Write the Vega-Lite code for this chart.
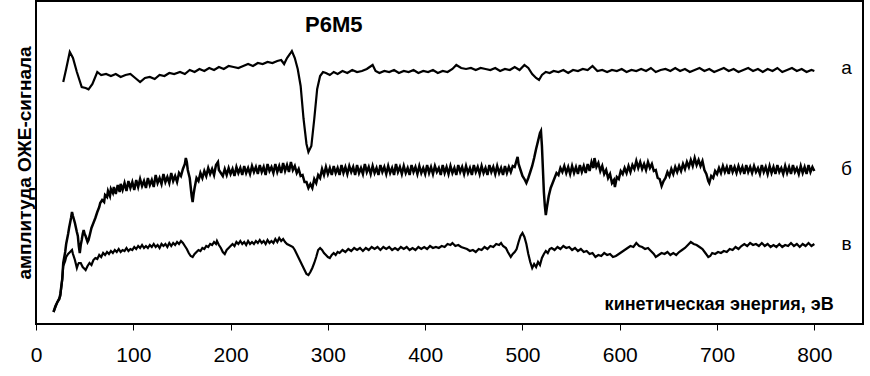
{
  "$schema": "https://vega.github.io/schema/vega-lite/v6.json",
  "autosize": "none",
  "width": 827,
  "height": 323,
  "padding": {"left": 36, "top": 1, "right": 7, "bottom": 52},
  "background": "white",
  "config": {
    "view": {"stroke": "black", "strokeWidth": 2},
    "font": "Liberation Sans"
  },
  "encoding": {
    "x": {"field": "x", "type": "quantitative", "scale": {"domain": [0, 850], "nice": false, "zero": false},
      "axis": {"values": [0,100,200,300,400,500,600,700,800], "grid": false, "title": null, "labelFontSize": 21, "labelFont": "Liberation Sans", "labelColor": "black", "tickColor": "black", "domainColor": "black", "tickSize": 6, "labelPadding": 14, "labelFlush": false}},
    "y": {"field": "y", "type": "quantitative", "scale": {"domain": [0, 323], "nice": false, "zero": false},
      "axis": {"labels": false, "ticks": false, "grid": false, "domain": false, "title": "амплитуда ОЖЕ-сигнала", "titleFontSize": 19, "titleFont": "Liberation Sans", "titleFontWeight": "bold", "titleColor": "black", "titlePadding": 2}}
  },
  "layer": [
    {
      "data": {"values": [
        {"x":28,"y":242},{"x":31,"y":255},{"x":34.7,"y":272},{"x":38,"y":266},{"x":42,"y":252},{"x":47,"y":237},{"x":51,"y":236},{"x":54,"y":234.7},{"x":58,"y":240},{"x":63,"y":252},{"x":67,"y":249},{"x":72,"y":250},{"x":77,"y":248},{"x":82,"y":250},{"x":87,"y":247},{"x":92,"y":249},{"x":97,"y":250},{"x":102,"y":246},{"x":107,"y":242},{"x":112,"y":246},{"x":117,"y":247},{"x":122,"y":245},{"x":127,"y":249},{"x":132,"y":248},{"x":137,"y":251},{"x":142,"y":250},{"x":148,"y":252},{"x":153,"y":250},{"x":158,"y":254},{"x":163,"y":252},{"x":168,"y":255},{"x":173,"y":253},{"x":178,"y":256},{"x":183,"y":254},{"x":188,"y":257},{"x":193,"y":255},{"x":198,"y":258},{"x":203,"y":257},{"x":208,"y":256},{"x":213,"y":258},{"x":218,"y":260},{"x":223,"y":258},{"x":228,"y":261},{"x":233,"y":260},{"x":238,"y":262},{"x":243,"y":261},{"x":248,"y":263},{"x":252,"y":264},{"x":255,"y":260},{"x":258,"y":266},{"x":261,"y":270},{"x":263,"y":273},{"x":266,"y":266},{"x":269,"y":255},{"x":272,"y":238},{"x":275,"y":205},{"x":278,"y":180},{"x":280,"y":172},{"x":283,"y":178},{"x":286,"y":205},{"x":289,"y":235},{"x":292,"y":248},{"x":295,"y":252},{"x":298,"y":251},{"x":302,"y":249},{"x":306,"y":252},{"x":310,"y":250},{"x":315,"y":253},{"x":320,"y":251},{"x":325,"y":254},{"x":330,"y":252},{"x":335,"y":253},{"x":340,"y":255},{"x":346,"y":259},{"x":349,"y":253},{"x":353,"y":251},{"x":358,"y":253},{"x":363,"y":252},{"x":368,"y":254},{"x":373,"y":251},{"x":378,"y":253},{"x":383,"y":252},{"x":388,"y":254},{"x":393,"y":251},{"x":398,"y":253},{"x":403,"y":252},{"x":408,"y":254},{"x":413,"y":251},{"x":418,"y":253},{"x":423,"y":252},{"x":428,"y":255},{"x":432,"y":259},{"x":437,"y":256},{"x":442,"y":255},{"x":447,"y":256},{"x":452,"y":254},{"x":457,"y":256},{"x":462,"y":255},{"x":467,"y":254},{"x":472,"y":256},{"x":477,"y":253},{"x":482,"y":255},{"x":487,"y":254},{"x":492,"y":257},{"x":497,"y":254},{"x":502,"y":259},{"x":506,"y":256},{"x":510,"y":250},{"x":514,"y":246},{"x":517,"y":244},{"x":520,"y":249},{"x":524,"y":252},{"x":528,"y":251},{"x":532,"y":253},{"x":537,"y":252},{"x":542,"y":254},{"x":547,"y":251},{"x":552,"y":254},{"x":557,"y":253},{"x":562,"y":255},{"x":567,"y":254},{"x":572,"y":258},{"x":577,"y":253},{"x":582,"y":254},{"x":587,"y":252},{"x":592,"y":254},{"x":597,"y":253},{"x":602,"y":255},{"x":607,"y":252},{"x":612,"y":254},{"x":617,"y":253},{"x":622,"y":255},{"x":627,"y":253},{"x":632,"y":256},{"x":637,"y":252},{"x":642,"y":254},{"x":647,"y":255},{"x":652,"y":253},{"x":657,"y":256},{"x":662,"y":253},{"x":667,"y":255},{"x":672,"y":252},{"x":677,"y":254},{"x":682,"y":256},{"x":687,"y":253},{"x":692,"y":255},{"x":697,"y":252},{"x":702,"y":254},{"x":707,"y":256},{"x":712,"y":253},{"x":717,"y":255},{"x":722,"y":252},{"x":727,"y":254},{"x":732,"y":256},{"x":737,"y":253},{"x":742,"y":255},{"x":747,"y":252},{"x":752,"y":255},{"x":757,"y":253},{"x":762,"y":256},{"x":767,"y":252},{"x":772,"y":254},{"x":777,"y":256},{"x":782,"y":253},{"x":787,"y":255},{"x":792,"y":252},{"x":797,"y":254},{"x":800,"y":253}
      ]},
      "mark": {"type": "line", "color": "black", "strokeWidth": 2.2, "interpolate": "linear"}
    },
    {
      "data": {"values": [
        {"x":18,"y":12},{"x":20,"y":18},{"x":22,"y":22},{"x":24,"y":25},{"x":25,"y":30},{"x":27,"y":45},{"x":28,"y":61},{"x":30,"y":72},{"x":31,"y":80},{"x":33,"y":90},{"x":34,"y":96},{"x":36,"y":106},{"x":37,"y":112},{"x":38,"y":108},{"x":40,"y":101},{"x":42,"y":92},{"x":43,"y":88},{"x":44,"y":78},{"x":45,"y":71},{"x":46,"y":79},{"x":47,"y":84},{"x":48,"y":90},{"x":49,"y":94},{"x":50,"y":90},{"x":51,"y":88},{"x":53,"y":82},{"x":54,"y":84},{"x":56,"y":92},{"x":57,"y":96},{"x":59,"y":101},{"x":61,"y":106},{"x":63,"y":112},{"x":65,"y":117},{"x":66,"y":121},{"x":68,"y":124},{"x":70,"y":122},{"x":71,"y":129},{"x":73,"y":127},{"x":74,"y":133},{"x":76,"y":128},{"x":77,"y":135},{"x":79,"y":131},{"x":80,"y":137},{"x":82,"y":130},{"x":84,"y":139},{"x":86,"y":132},{"x":87,"y":140},{"x":89,"y":134},{"x":91,"y":141},{"x":93,"y":133},{"x":95,"y":143},{"x":97,"y":136},{"x":99,"y":142},{"x":101,"y":134},{"x":103,"y":144},{"x":105,"y":137},{"x":107,"y":145},{"x":109,"y":138},{"x":111,"y":143},{"x":113,"y":136},{"x":115,"y":146},{"x":117,"y":139},{"x":119,"y":144},{"x":121,"y":137},{"x":123,"y":149},{"x":125,"y":141},{"x":127,"y":146},{"x":129,"y":140},{"x":131,"y":150},{"x":133,"y":142},{"x":135,"y":147},{"x":137,"y":141},{"x":139,"y":151},{"x":141,"y":143},{"x":143,"y":148},{"x":145,"y":142},{"x":147,"y":151},{"x":149,"y":148},{"x":151,"y":155},{"x":153,"y":160},{"x":154,"y":166},{"x":155,"y":162},{"x":156,"y":154},{"x":157,"y":150},{"x":158,"y":146},{"x":159,"y":137},{"x":160,"y":128},{"x":161,"y":122},{"x":162,"y":130},{"x":163,"y":136},{"x":164,"y":141},{"x":165,"y":146},{"x":167,"y":143},{"x":169,"y":151},{"x":171,"y":146},{"x":173,"y":153},{"x":175,"y":148},{"x":177,"y":156},{"x":179,"y":150},{"x":181,"y":155},{"x":183,"y":149},{"x":185,"y":159},{"x":187,"y":162},{"x":188,"y":154},{"x":190,"y":151},{"x":192,"y":148},{"x":194,"y":155},{"x":196,"y":149},{"x":198,"y":156},{"x":200,"y":150},{"x":202,"y":155},{"x":204,"y":148},{"x":206,"y":157},{"x":208,"y":151},{"x":210,"y":156},{"x":212,"y":149},{"x":214,"y":158},{"x":216,"y":151},{"x":218,"y":156},{"x":220,"y":150},{"x":222,"y":158},{"x":224,"y":152},{"x":226,"y":157},{"x":228,"y":150},{"x":230,"y":159},{"x":232,"y":152},{"x":234,"y":157},{"x":236,"y":149},{"x":238,"y":160},{"x":240,"y":153},{"x":242,"y":157},{"x":244,"y":151},{"x":246,"y":160},{"x":248,"y":152},{"x":250,"y":158},{"x":252,"y":151},{"x":254,"y":161},{"x":256,"y":153},{"x":258,"y":159},{"x":260,"y":152},{"x":262,"y":162},{"x":264,"y":154},{"x":266,"y":158},{"x":268,"y":151},{"x":270,"y":155},{"x":272,"y":148},{"x":274,"y":149},{"x":276,"y":142},{"x":278,"y":142},{"x":280,"y":136},{"x":282,"y":140},{"x":284,"y":136},{"x":286,"y":145},{"x":288,"y":141},{"x":290,"y":149},{"x":292,"y":146},{"x":294,"y":155},{"x":296,"y":149},{"x":298,"y":157},{"x":300,"y":150},{"x":302,"y":156},{"x":304,"y":149},{"x":306,"y":158},{"x":308,"y":151},{"x":310,"y":156},{"x":312,"y":149},{"x":314,"y":159},{"x":316,"y":151},{"x":318,"y":157},{"x":320,"y":150},{"x":322,"y":158},{"x":324,"y":152},{"x":326,"y":157},{"x":328,"y":149},{"x":330,"y":159},{"x":332,"y":151},{"x":334,"y":156},{"x":336,"y":150},{"x":338,"y":160},{"x":340,"y":152},{"x":342,"y":157},{"x":344,"y":150},{"x":346,"y":158},{"x":348,"y":151},{"x":350,"y":156},{"x":352,"y":149},{"x":354,"y":159},{"x":356,"y":152},{"x":358,"y":157},{"x":360,"y":150},{"x":362,"y":158},{"x":364,"y":151},{"x":366,"y":156},{"x":368,"y":149},{"x":370,"y":160},{"x":372,"y":152},{"x":374,"y":157},{"x":376,"y":150},{"x":378,"y":158},{"x":380,"y":151},{"x":382,"y":156},{"x":384,"y":149},{"x":386,"y":159},{"x":388,"y":152},{"x":390,"y":157},{"x":392,"y":150},{"x":394,"y":158},{"x":396,"y":151},{"x":398,"y":156},{"x":400,"y":150},{"x":402,"y":159},{"x":404,"y":151},{"x":406,"y":157},{"x":408,"y":150},{"x":410,"y":158},{"x":412,"y":152},{"x":414,"y":156},{"x":416,"y":149},{"x":418,"y":159},{"x":420,"y":151},{"x":422,"y":157},{"x":424,"y":150},{"x":426,"y":158},{"x":428,"y":151},{"x":430,"y":156},{"x":432,"y":149},{"x":434,"y":159},{"x":436,"y":152},{"x":438,"y":157},{"x":440,"y":150},{"x":442,"y":158},{"x":444,"y":151},{"x":446,"y":156},{"x":448,"y":149},{"x":450,"y":159},{"x":452,"y":152},{"x":454,"y":157},{"x":456,"y":150},{"x":458,"y":158},{"x":460,"y":151},{"x":462,"y":156},{"x":464,"y":149},{"x":466,"y":159},{"x":468,"y":152},{"x":470,"y":157},{"x":472,"y":150},{"x":474,"y":158},{"x":476,"y":151},{"x":478,"y":156},{"x":480,"y":149},{"x":482,"y":158},{"x":484,"y":151},{"x":486,"y":157},{"x":488,"y":152},{"x":490,"y":158},{"x":492,"y":157},{"x":494,"y":164},{"x":495,"y":167},{"x":496,"y":160},{"x":498,"y":154},{"x":500,"y":148},{"x":502,"y":145},{"x":504,"y":141},{"x":506,"y":146},{"x":508,"y":152},{"x":510,"y":158},{"x":512,"y":166},{"x":514,"y":175},{"x":516,"y":183},{"x":517,"y":187},{"x":518,"y":191},{"x":519,"y":193},{"x":520,"y":178},{"x":521,"y":155},{"x":522,"y":132},{"x":523,"y":118},{"x":524,"y":109},{"x":525,"y":116},{"x":527,"y":128},{"x":529,"y":136},{"x":531,"y":141},{"x":533,"y":146},{"x":535,"y":151},{"x":537,"y":149},{"x":539,"y":156},{"x":541,"y":152},{"x":543,"y":158},{"x":545,"y":151},{"x":547,"y":157},{"x":549,"y":150},{"x":551,"y":158},{"x":553,"y":151},{"x":555,"y":157},{"x":557,"y":150},{"x":559,"y":159},{"x":561,"y":152},{"x":563,"y":158},{"x":565,"y":151},{"x":567,"y":160},{"x":569,"y":153},{"x":571,"y":162},{"x":573,"y":156},{"x":574,"y":166},{"x":576,"y":157},{"x":578,"y":161},{"x":580,"y":153},{"x":582,"y":158},{"x":584,"y":150},{"x":586,"y":154},{"x":588,"y":146},{"x":590,"y":150},{"x":592,"y":141},{"x":594,"y":144},{"x":595,"y":137},{"x":597,"y":147},{"x":599,"y":145},{"x":601,"y":153},{"x":603,"y":150},{"x":605,"y":156},{"x":607,"y":151},{"x":609,"y":158},{"x":611,"y":152},{"x":613,"y":159},{"x":615,"y":155},{"x":617,"y":163},{"x":619,"y":156},{"x":621,"y":162},{"x":623,"y":155},{"x":625,"y":160},{"x":627,"y":154},{"x":629,"y":162},{"x":631,"y":156},{"x":633,"y":160},{"x":635,"y":153},{"x":637,"y":154},{"x":639,"y":146},{"x":641,"y":145},{"x":643,"y":138},{"x":645,"y":143},{"x":647,"y":146},{"x":649,"y":152},{"x":651,"y":148},{"x":653,"y":155},{"x":655,"y":150},{"x":657,"y":157},{"x":659,"y":152},{"x":661,"y":158},{"x":663,"y":153},{"x":665,"y":160},{"x":667,"y":155},{"x":669,"y":162},{"x":671,"y":157},{"x":673,"y":164},{"x":675,"y":158},{"x":677,"y":166},{"x":679,"y":159},{"x":681,"y":164},{"x":683,"y":158},{"x":685,"y":163},{"x":687,"y":154},{"x":689,"y":150},{"x":691,"y":143},{"x":692,"y":141},{"x":694,"y":148},{"x":696,"y":146},{"x":698,"y":153},{"x":700,"y":150},{"x":702,"y":156},{"x":704,"y":151},{"x":706,"y":158},{"x":708,"y":152},{"x":710,"y":157},{"x":712,"y":150},{"x":714,"y":159},{"x":716,"y":152},{"x":718,"y":157},{"x":720,"y":151},{"x":722,"y":158},{"x":724,"y":152},{"x":726,"y":157},{"x":728,"y":150},{"x":730,"y":159},{"x":732,"y":152},{"x":734,"y":157},{"x":736,"y":151},{"x":738,"y":158},{"x":740,"y":152},{"x":742,"y":156},{"x":744,"y":150},{"x":746,"y":159},{"x":748,"y":152},{"x":750,"y":157},{"x":752,"y":150},{"x":754,"y":158},{"x":756,"y":151},{"x":758,"y":157},{"x":760,"y":150},{"x":762,"y":159},{"x":764,"y":152},{"x":766,"y":156},{"x":768,"y":150},{"x":770,"y":158},{"x":772,"y":151},{"x":774,"y":157},{"x":776,"y":150},{"x":778,"y":159},{"x":780,"y":152},{"x":782,"y":156},{"x":784,"y":150},{"x":786,"y":158},{"x":788,"y":151},{"x":790,"y":157},{"x":792,"y":150},{"x":794,"y":159},{"x":796,"y":152},{"x":798,"y":157},{"x":800,"y":153}
      ]},
      "mark": {"type": "line", "color": "black", "strokeWidth": 2.5}
    },
    {
      "data": {"values": [
        {"x":18,"y":12},{"x":20,"y":17},{"x":22,"y":22},{"x":24,"y":26},{"x":25,"y":28},{"x":27,"y":45},{"x":28,"y":58},{"x":30,"y":63},{"x":31,"y":67},{"x":33,"y":70},{"x":35,"y":72},{"x":37,"y":74},{"x":38,"y":70},{"x":40,"y":64},{"x":42,"y":56},{"x":43,"y":59},{"x":44,"y":61},{"x":46,"y":61},{"x":48,"y":57},{"x":50,"y":55},{"x":51,"y":54},{"x":53,"y":58},{"x":55,"y":61},{"x":57,"y":59},{"x":59,"y":64},{"x":61,"y":66},{"x":63,"y":65},{"x":65,"y":69},{"x":67,"y":67},{"x":69,"y":71},{"x":71,"y":69},{"x":73,"y":72},{"x":75,"y":70},{"x":77,"y":73},{"x":79,"y":71},{"x":81,"y":74},{"x":83,"y":72},{"x":85,"y":75},{"x":87,"y":72},{"x":89,"y":74},{"x":91,"y":73},{"x":93,"y":76},{"x":95,"y":73},{"x":97,"y":75},{"x":99,"y":74},{"x":101,"y":77},{"x":103,"y":75},{"x":105,"y":78},{"x":107,"y":76},{"x":109,"y":79},{"x":111,"y":76},{"x":113,"y":78},{"x":115,"y":76},{"x":117,"y":79},{"x":119,"y":77},{"x":121,"y":80},{"x":123,"y":77},{"x":125,"y":79},{"x":127,"y":76},{"x":129,"y":80},{"x":131,"y":78},{"x":133,"y":80},{"x":135,"y":77},{"x":137,"y":81},{"x":139,"y":78},{"x":141,"y":81},{"x":143,"y":79},{"x":145,"y":82},{"x":147,"y":80},{"x":149,"y":83},{"x":151,"y":81},{"x":153,"y":78},{"x":155,"y":75},{"x":157,"y":71},{"x":159,"y":68},{"x":161,"y":67},{"x":163,"y":70},{"x":165,"y":72},{"x":167,"y":74},{"x":169,"y":73},{"x":171,"y":76},{"x":173,"y":75},{"x":175,"y":78},{"x":177,"y":77},{"x":179,"y":80},{"x":181,"y":79},{"x":183,"y":82},{"x":185,"y":80},{"x":186,"y":83},{"x":188,"y":79},{"x":190,"y":76},{"x":192,"y":72},{"x":194,"y":70},{"x":196,"y":74},{"x":198,"y":76},{"x":200,"y":78},{"x":202,"y":80},{"x":204,"y":78},{"x":206,"y":82},{"x":208,"y":80},{"x":210,"y":83},{"x":212,"y":80},{"x":214,"y":82},{"x":216,"y":79},{"x":218,"y":83},{"x":220,"y":80},{"x":222,"y":82},{"x":224,"y":80},{"x":226,"y":83},{"x":228,"y":81},{"x":230,"y":84},{"x":232,"y":81},{"x":234,"y":83},{"x":236,"y":80},{"x":238,"y":84},{"x":240,"y":81},{"x":242,"y":83},{"x":244,"y":81},{"x":246,"y":85},{"x":248,"y":82},{"x":250,"y":86},{"x":252,"y":83},{"x":254,"y":85},{"x":256,"y":82},{"x":258,"y":80},{"x":260,"y":79},{"x":262,"y":78},{"x":264,"y":77},{"x":266,"y":74},{"x":268,"y":70},{"x":270,"y":66},{"x":272,"y":62},{"x":274,"y":58},{"x":276,"y":54},{"x":278,"y":50},{"x":280,"y":49},{"x":282,"y":52},{"x":284,"y":56},{"x":286,"y":61},{"x":288,"y":67},{"x":290,"y":74},{"x":292,"y":76},{"x":294,"y":74},{"x":296,"y":71},{"x":298,"y":69},{"x":300,"y":67},{"x":302,"y":66},{"x":304,"y":69},{"x":306,"y":71},{"x":308,"y":69},{"x":310,"y":72},{"x":312,"y":71},{"x":315,"y":74},{"x":318,"y":72},{"x":321,"y":75},{"x":324,"y":73},{"x":327,"y":76},{"x":330,"y":74},{"x":333,"y":76},{"x":336,"y":73},{"x":339,"y":76},{"x":342,"y":74},{"x":345,"y":77},{"x":348,"y":75},{"x":351,"y":77},{"x":354,"y":74},{"x":357,"y":77},{"x":360,"y":75},{"x":363,"y":77},{"x":366,"y":74},{"x":369,"y":76},{"x":372,"y":74},{"x":375,"y":77},{"x":378,"y":75},{"x":381,"y":77},{"x":384,"y":74},{"x":387,"y":76},{"x":390,"y":74},{"x":393,"y":77},{"x":396,"y":75},{"x":399,"y":77},{"x":402,"y":75},{"x":405,"y":78},{"x":408,"y":76},{"x":411,"y":77},{"x":414,"y":76},{"x":417,"y":78},{"x":420,"y":77},{"x":423,"y":80},{"x":426,"y":79},{"x":428,"y":81},{"x":431,"y":78},{"x":434,"y":79},{"x":437,"y":77},{"x":440,"y":76},{"x":443,"y":75},{"x":446,"y":73},{"x":449,"y":74},{"x":452,"y":72},{"x":455,"y":75},{"x":458,"y":74},{"x":461,"y":77},{"x":464,"y":75},{"x":467,"y":78},{"x":470,"y":77},{"x":473,"y":80},{"x":476,"y":79},{"x":478,"y":81},{"x":480,"y":78},{"x":483,"y":76},{"x":485,"y":72},{"x":488,"y":67},{"x":490,"y":70},{"x":492,"y":72},{"x":494,"y":75},{"x":496,"y":82},{"x":498,"y":88},{"x":500,"y":91},{"x":502,"y":87},{"x":504,"y":80},{"x":506,"y":70},{"x":508,"y":62},{"x":510,"y":56},{"x":512,"y":60},{"x":514,"y":57},{"x":516,"y":62},{"x":518,"y":59},{"x":520,"y":66},{"x":522,"y":70},{"x":524,"y":73},{"x":526,"y":71},{"x":528,"y":75},{"x":530,"y":76},{"x":533,"y":74},{"x":536,"y":77},{"x":539,"y":75},{"x":542,"y":78},{"x":545,"y":76},{"x":548,"y":77},{"x":551,"y":74},{"x":554,"y":76},{"x":557,"y":73},{"x":560,"y":75},{"x":563,"y":72},{"x":566,"y":73},{"x":569,"y":70},{"x":572,"y":71},{"x":575,"y":67},{"x":578,"y":69},{"x":581,"y":68},{"x":584,"y":71},{"x":587,"y":69},{"x":590,"y":70},{"x":593,"y":67},{"x":596,"y":68},{"x":599,"y":70},{"x":602,"y":72},{"x":605,"y":74},{"x":608,"y":76},{"x":611,"y":78},{"x":614,"y":77},{"x":617,"y":81},{"x":620,"y":78},{"x":623,"y":77},{"x":626,"y":75},{"x":629,"y":76},{"x":632,"y":73},{"x":635,"y":70},{"x":637,"y":67},{"x":640,"y":69},{"x":643,"y":71},{"x":646,"y":70},{"x":649,"y":72},{"x":652,"y":69},{"x":655,"y":71},{"x":658,"y":69},{"x":661,"y":72},{"x":664,"y":74},{"x":667,"y":76},{"x":670,"y":79},{"x":673,"y":82},{"x":676,"y":80},{"x":679,"y":79},{"x":682,"y":77},{"x":685,"y":75},{"x":688,"y":71},{"x":691,"y":67},{"x":693,"y":68},{"x":695,"y":71},{"x":698,"y":70},{"x":701,"y":72},{"x":704,"y":71},{"x":707,"y":73},{"x":710,"y":72},{"x":713,"y":75},{"x":716,"y":74},{"x":719,"y":77},{"x":722,"y":75},{"x":725,"y":78},{"x":728,"y":80},{"x":731,"y":78},{"x":734,"y":81},{"x":737,"y":79},{"x":740,"y":80},{"x":743,"y":78},{"x":746,"y":81},{"x":749,"y":78},{"x":752,"y":80},{"x":755,"y":77},{"x":758,"y":79},{"x":761,"y":77},{"x":764,"y":80},{"x":767,"y":77},{"x":770,"y":79},{"x":773,"y":78},{"x":776,"y":81},{"x":779,"y":78},{"x":782,"y":80},{"x":785,"y":77},{"x":788,"y":80},{"x":791,"y":78},{"x":794,"y":81},{"x":797,"y":78},{"x":800,"y":80}
      ]},
      "mark": {"type": "line", "color": "black", "strokeWidth": 2.2}
    },
    {
      "data": {"values": [
        {"x":833,"y":256,"t":"а"},
        {"x":833,"y":155,"t":"б"},
        {"x":833,"y":80,"t":"в"}
      ]},
      "mark": {"type": "text", "color": "black", "font": "Liberation Sans", "fontSize": 19, "baseline": "middle", "align": "center"},
      "encoding": {"text": {"field": "t"}}
    },
    {
      "data": {"values": [
        {"x":306,"y":299,"t":"P6M5"}
      ]},
      "mark": {"type": "text", "color": "black", "font": "Liberation Sans", "fontSize": 22, "fontWeight": "bold", "baseline": "middle", "align": "center"},
      "encoding": {"text": {"field": "t"}}
    },
    {
      "data": {"values": [
        {"x":820,"y":19,"t":"кинетическая энергия, эВ"}
      ]},
      "mark": {"type": "text", "color": "black", "font": "Liberation Sans", "fontSize": 18, "fontWeight": "bold", "baseline": "middle", "align": "right"},
      "encoding": {"text": {"field": "t"}}
    }
  ]
}
